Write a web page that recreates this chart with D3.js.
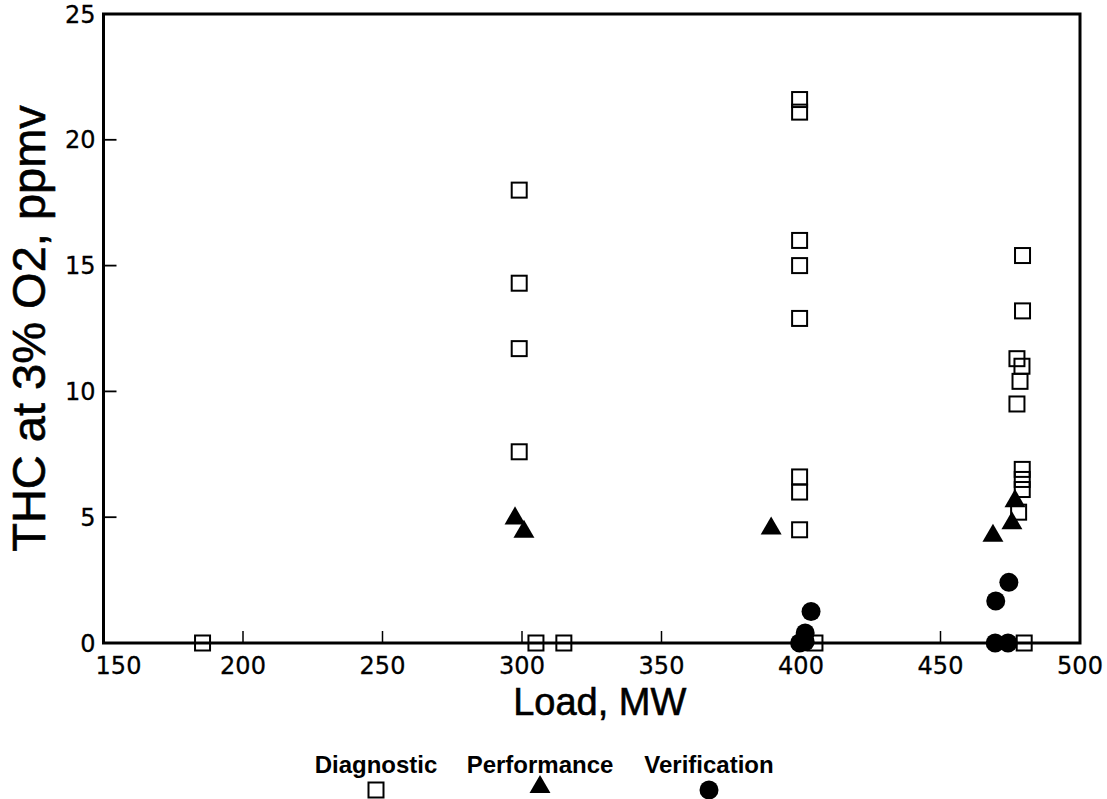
<!DOCTYPE html>
<html>
<head>
<meta charset="utf-8">
<script src="https://cdn.jsdelivr.net/npm/d3@7"></script>
<style>
  body { margin: 0; background: #fff; }
  .tick-label { font-family: "DejaVu Sans", sans-serif; font-size: 24px; fill: #000; stroke: #000; stroke-width: 0.3; }
  .axis-title { font-family: "Liberation Sans", Arial, sans-serif; fill: #000; stroke: #000; stroke-width: 0.6; }
  .legend-text { font-family: "Liberation Sans", Arial, sans-serif; font-weight: bold; font-size: 24px; fill: #000; }
</style>
</head>
<body>
<div id="chart"></div>
<script>
// data: [load MW, THC ppmv]
const diagnostic = [
  [185.5, 0], [299, 18.0], [299, 14.3], [299, 11.7], [299, 7.6], [305, 0], [315, 0],
  [399.5, 21.6], [399.5, 21.1], [399.5, 16.0], [399.5, 15.0], [399.5, 12.9],
  [399.5, 6.6], [399.5, 6.0], [399.5, 4.5], [405, 0],
  [479.4, 15.4], [479.4, 13.2], [477.4, 11.3], [479.2, 11.0], [478.5, 10.4], [477.4, 9.5],
  [479.3, 6.9], [479.3, 6.5], [479.3, 6.1], [478, 5.2], [480, 0]
];
const performance = [
  [297.5, 4.95], [300.7, 4.42], [389.3, 4.55], [468.8, 4.26], [475.6, 4.76], [476.7, 5.64]
];
const verification = [
  [403.6, 1.25], [401.5, 0.4], [399.5, 0], [401.5, 0.05],
  [469.8, 1.67], [474.5, 2.41], [469.6, 0], [474.2, 0]
];
const xTicks = [150, 200, 250, 300, 350, 400, 450, 500];
const yTicks = [0, 5, 10, 15, 20, 25];
const legendNames = ["Diagnostic", "Performance", "Verification"];

const fullWidth = 1107, fullHeight = 799;
const margin = { top: 14, right: 27, bottom: 156, left: 103.5 };
const width = fullWidth - margin.left - margin.right,
  height = fullHeight - margin.top - margin.bottom;

const svg = d3.select("#chart")
  .append("svg")
  .attr("width", fullWidth)
  .attr("height", fullHeight);

const g = svg.append("g")
  .attr("transform", `translate(${margin.left},${margin.top})`);

const x = d3.scaleLinear().domain([150, 500]).range([0, width]);
const y = d3.scaleLinear().domain([0, 25]).range([height, 0]);

// inner ticks
g.selectAll(".xtick")
  .data(xTicks.filter(d => d > 150 && d < 500))
  .enter().append("line")
  .attr("x1", d => x(d)).attr("x2", d => x(d))
  .attr("y1", height).attr("y2", height - 12)
  .attr("stroke", "#000").attr("stroke-width", 1.5);

g.selectAll(".ytick")
  .data(yTicks.filter(d => d > 0 && d < 25))
  .enter().append("line")
  .attr("x1", 0).attr("x2", 13)
  .attr("y1", d => y(d)).attr("y2", d => y(d))
  .attr("stroke", "#000").attr("stroke-width", 1.8);

// frame
g.append("rect")
  .attr("width", width).attr("height", height)
  .attr("fill", "none").attr("stroke", "#000").attr("stroke-width", 3);

// tick labels (first one nudged right of the corner, as in the scan)
g.selectAll(".xlab")
  .data(xTicks)
  .enter().append("text")
  .attr("class", "tick-label")
  .attr("x", d => x(d) + (d === 150 ? 15 : 0))
  .attr("y", height + 31)
  .attr("text-anchor", "middle")
  .text(d => d);

g.selectAll(".ylab")
  .data(yTicks)
  .enter().append("text")
  .attr("class", "tick-label")
  .attr("x", -8)
  .attr("y", d => y(d))
  .attr("dy", "0.36em")
  .attr("text-anchor", "end")
  .text(d => d);

// axis titles
g.append("text")
  .attr("class", "axis-title")
  .attr("x", width / 2 + 8)
  .attr("y", height + 72)
  .attr("text-anchor", "middle")
  .style("font-size", "38px")
  .text("Load, MW");

g.append("text")
  .attr("class", "axis-title")
  .attr("transform", "rotate(-90)")
  .attr("x", -height / 2)
  .attr("y", -margin.left + 45)
  .attr("text-anchor", "middle")
  .style("font-size", "47px")
  .text("THC at 3% O2, ppmv");

// markers
const sym = d3.symbol();
function drawMarker(sel, i) {
  if (i === 0) {
    sel.append("rect")
      .attr("x", -7.5).attr("y", -7.5).attr("width", 15).attr("height", 15)
      .attr("fill", "none").attr("stroke", "#000").attr("stroke-width", 2);
  } else if (i === 1) {
    sel.append("path")
      .attr("d", sym.type(d3.symbolTriangle).size(190)())
      .attr("fill", "#000");
  } else {
    sel.append("circle").attr("r", 9.5).attr("fill", "#000");
  }
}

[diagnostic, performance, verification].forEach((series, i) => {
  g.selectAll(".s" + i)
    .data(series)
    .enter().append("g")
    .attr("transform", d => `translate(${x(d[0])},${y(d[1])})`)
    .each(function () { drawMarker(d3.select(this), i); });
});

// legend
const legendX = [376, 540, 709];
const legend = svg.append("g");
legendNames.forEach((name, i) => {
  legend.append("text")
    .attr("class", "legend-text")
    .attr("x", legendX[i])
    .attr("y", 773)
    .attr("text-anchor", "middle")
    .text(name);
  const m = legend.append("g")
    .attr("transform", `translate(${legendX[i]},${i === 1 ? 787 : 790})`);
  drawMarker(m, i);
});
</script>
</body>
</html>
